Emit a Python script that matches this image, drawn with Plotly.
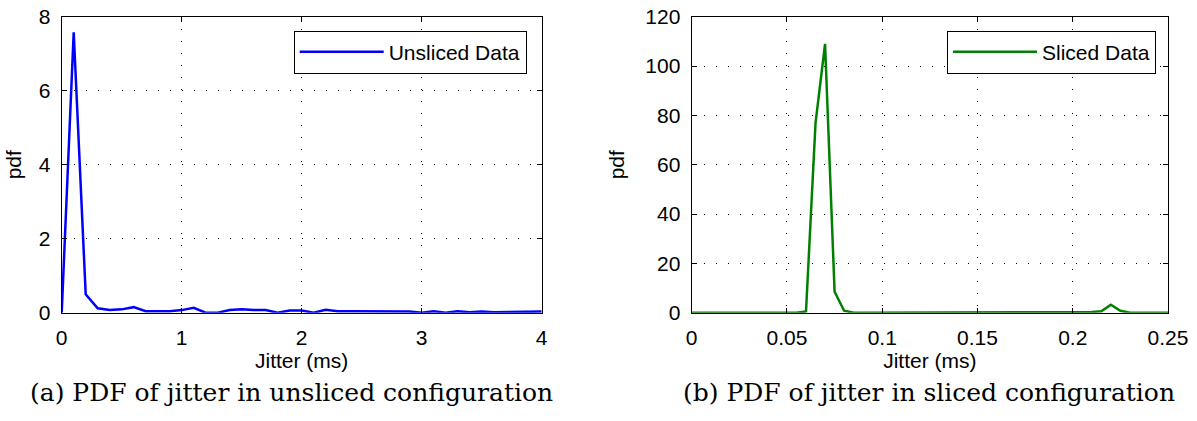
import plotly.graph_objects as go

# ---- data ----
unsliced_x = [0.0, 0.1, 0.2, 0.3, 0.4, 0.5, 0.6, 0.7, 0.8, 0.9,
              1.0, 1.1, 1.2, 1.3, 1.4, 1.5, 1.6, 1.7, 1.8, 1.9,
              2.0, 2.1, 2.2, 2.3, 2.4, 2.5, 2.6, 2.7, 2.8, 2.9,
              3.0, 3.1, 3.2, 3.3, 3.4, 3.5, 3.6, 3.7, 3.8, 3.9, 4.0]
unsliced_pdf = [0.0, 7.58, 0.50, 0.12, 0.07, 0.09, 0.15, 0.04, 0.04, 0.04,
                0.07, 0.13, 0.0, 0.0, 0.07, 0.09, 0.07, 0.07, 0.0, 0.06,
                0.06, 0.0, 0.08, 0.04, 0.04, 0.04, 0.04, 0.04, 0.04, 0.03,
                0.0, 0.04, 0.0, 0.04, 0.01, 0.03, 0.01, 0.01, 0.03, 0.01, 0.03]

sliced_x = [0.0, 0.005, 0.01, 0.015, 0.02, 0.025, 0.03, 0.035, 0.04, 0.045,
            0.05, 0.055, 0.06, 0.065, 0.07, 0.075, 0.08, 0.085, 0.09, 0.095,
            0.1, 0.105, 0.11, 0.115, 0.12, 0.125, 0.13, 0.135, 0.14, 0.145,
            0.15, 0.155, 0.16, 0.165, 0.17, 0.175, 0.18, 0.185, 0.19, 0.195,
            0.2, 0.205, 0.21, 0.215, 0.22, 0.225, 0.23, 0.235, 0.24, 0.245, 0.25]
sliced_pdf = [0, 0, 0, 0, 0, 0, 0, 0, 0, 0,
              0, 0, 0.5, 77, 109, 8.5, 0.8, 0, 0, 0,
              0, 0, 0, 0, 0, 0, 0, 0, 0, 0,
              0, 0, 0, 0, 0, 0, 0, 0, 0, 0,
              0, 0, 0.3, 0.6, 3.2, 0.8, 0, 0, 0, 0, 0]

left_xticks = [0, 1, 2, 3, 4]
left_yticks = [0, 2, 4, 6, 8]
right_xticks = [0, 0.05, 0.1, 0.15, 0.2, 0.25]
right_xticklabels = ["0", "0.05", "0.1", "0.15", "0.2", "0.25"]
right_yticks = [0, 20, 40, 60, 80, 100, 120]

captions = ["(a) PDF of jitter in unsliced configuration",
            "(b) PDF of jitter in sliced configuration"]

W, H = 1197, 421
SANS = "Liberation Sans, Arial, Helvetica, sans-serif"
SERIF = "DejaVu Serif, serif"
FS = 21

fig = go.Figure()
fig.add_trace(go.Scatter(x=unsliced_x, y=unsliced_pdf, mode="lines",
                         line=dict(color="#0000FF", width=2.5),
                         name="Unsliced Data", xaxis="x", yaxis="y", legend="legend"))
fig.add_trace(go.Scatter(x=sliced_x, y=sliced_pdf, mode="lines",
                         line=dict(color="#008000", width=2.5),
                         name="Sliced Data", xaxis="x2", yaxis="y2", legend="legend2"))

ytop = 1 - 16.7 / H
ybot = 1 - 312.7 / H

axis_common = dict(
    showline=True, linecolor="black", linewidth=1.3, mirror="ticks",
    ticks="inside", ticklen=5, tickcolor="black", tickwidth=1,
    showgrid=True, gridcolor="black", gridwidth=1, griddash="1.5px,10.5px",
    zeroline=False, tickfont=dict(family=SANS, size=FS, color="black"),
    ticklabelstandoff=6, automargin=False,
)

fig.update_layout(
    template="none",
    width=W, height=H,
    margin=dict(l=0, r=0, t=0, b=0),
    paper_bgcolor="white", plot_bgcolor="white",
    xaxis=dict(domain=[61.7 / W, 541.7 / W], range=[0, 4], tickvals=left_xticks,
               title=dict(text="Jitter (ms)", font=dict(family=SANS, size=FS, color="black"), standoff=5),
               anchor="y", **axis_common),
    yaxis=dict(domain=[ybot, ytop], range=[0, 8], tickvals=left_yticks,
               title=dict(text="pdf", font=dict(family=SANS, size=FS, color="black"), standoff=11),
               anchor="x", **axis_common),
    xaxis2=dict(domain=[691.7 / W, 1168 / W], range=[0, 0.25], tickvals=right_xticks,
                ticktext=right_xticklabels,
                title=dict(text="Jitter (ms)", font=dict(family=SANS, size=FS, color="black"), standoff=5),
                anchor="y2", **axis_common),
    yaxis2=dict(domain=[ybot, ytop], range=[0, 120], tickvals=right_yticks,
                title=dict(text="pdf", font=dict(family=SANS, size=FS, color="black"), standoff=14),
                anchor="x2", **axis_common),
    legend=dict(x=526.7 / W, y=1 - 30.7 / H, xanchor="right", yanchor="top",
                bgcolor="white", bordercolor="black", borderwidth=1,
                font=dict(family=SANS, size=FS, color="black"), itemwidth=84),
    legend2=dict(x=1156 / W, y=1 - 30.7 / H, xanchor="right", yanchor="top",
                 bgcolor="white", bordercolor="black", borderwidth=1,
                 font=dict(family=SANS, size=FS, color="black"), itemwidth=84),
    showlegend=True,
)

fig.add_annotation(text=captions[0], x=291 / W, y=1 - 392 / H, xref="paper", yref="paper",
                   xanchor="center", yanchor="middle",
                   showarrow=False, font=dict(family=SERIF, size=25, color="black"))
fig.add_annotation(text=captions[1], x=929 / W, y=1 - 392 / H, xref="paper", yref="paper",
                   xanchor="center", yanchor="middle",
                   showarrow=False, font=dict(family=SERIF, size=25, color="black"))

fig.write_html("out.html")
